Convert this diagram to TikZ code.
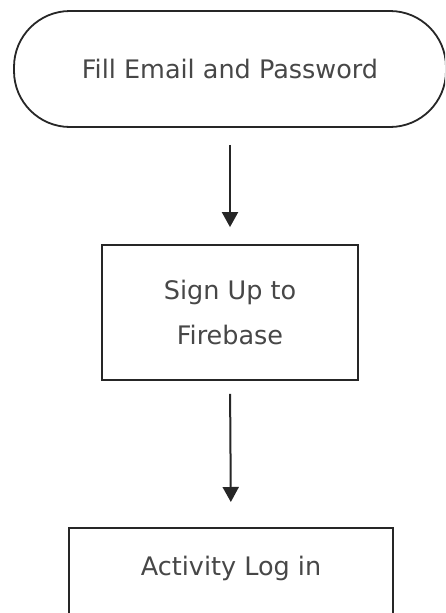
\documentclass[tikz,border=0pt]{standalone}
\usepackage{fontspec}
\setmainfont{DejaVu Sans}
\usetikzlibrary{shapes, arrows.meta}

\tikzset{
	flowbox/.style={rectangle, draw=black!85, line width=1.8pt, text=black!72, font=\fontsize{25.5}{45}\selectfont, align=center},
	flowarrow/.style={line width=2pt, draw=black!85, -{Triangle[length=15pt, width=16pt]}}
}

\begin{document}
\begin{tikzpicture}[x=1pt, y=-1pt]
		\clip (0, 0) rectangle (445, 613);
		\fill[white] (0, 0) rectangle (445, 613);
		\node(FILL) at (230, 69)[flowbox, rounded corners=56pt, minimum width=432pt, minimum height=116pt]{Fill Email and Password};
		\node(SIGNUP) at (230, 312.5)[flowbox, minimum width=256pt, minimum height=135pt]{Sign Up to\\Firebase};
		\node(LOGIN) at (231, 527)[flowbox, anchor=north, minimum width=324pt, text height=19pt, text depth=40pt, inner ysep=29pt]{Activity Log in};
		\draw[flowarrow, shorten <=17pt, shorten >=17pt] (FILL.south)--(SIGNUP.north);
		\draw[flowarrow, shorten <=13pt, shorten >=25pt] (SIGNUP.south)--(LOGIN.north);
		\end{tikzpicture}
\end{document}
